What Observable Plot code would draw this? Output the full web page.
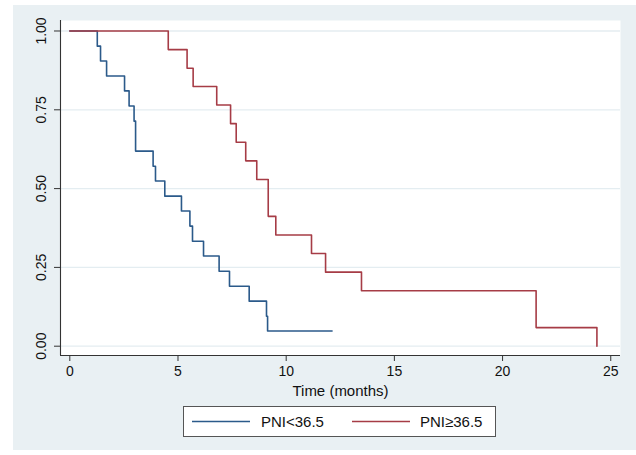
<!DOCTYPE html>
<html><head><meta charset="utf-8">
<script src="https://cdn.jsdelivr.net/npm/d3@7"></script>
<script src="https://cdn.jsdelivr.net/npm/@observablehq/plot@0.6"></script>
<style>
body{margin:0;background:#fff;font-family:"Liberation Sans",Arial,sans-serif;}
#wrap{position:relative;width:636px;height:455px;overflow:hidden;background:#fff}
#bg{position:absolute;left:13px;top:5px;width:623px;height:445px;background:#e9f0f3}
#chart{position:absolute;left:0;top:0}
#legend{position:absolute;left:183px;top:406px;width:313px;height:31px;background:#fff;border:1px solid #555;box-sizing:border-box}
#legend svg{position:absolute;left:0;top:0}
#legend .tx{position:absolute;top:6px;font-size:15px;line-height:18px;color:#111;white-space:nowrap}
</style>
</head><body>
<div id="wrap"><div id="bg"></div><div id="chart"></div><div id="legend"></div></div>
<script>
const seriesNames = ["PNI<36.5", "PNI\u226536.5"];
const seriesColors = ["#2b5a8a", "#a63c46"];
const lowTimes = [0, 1.27, 1.42, 1.70, 2.53, 2.74, 2.97, 3.04, 3.85, 3.96, 4.39, 5.16, 5.55, 5.67, 6.18, 6.90, 7.38, 8.29, 9.09, 9.14, 12.12];
const lowSurv  = [1, 0.952, 0.905, 0.857, 0.810, 0.762, 0.714, 0.619, 0.571, 0.524, 0.476, 0.429, 0.381, 0.333, 0.286, 0.238, 0.190, 0.143, 0.095, 0.048, 0.048];
const highTimes = [0, 4.55, 5.42, 5.70, 6.79, 7.43, 7.69, 8.13, 8.64, 9.17, 9.52, 11.17, 11.82, 13.48, 21.55, 24.36];
const highSurv  = [1, 0.941, 0.882, 0.824, 0.765, 0.706, 0.647, 0.588, 0.529, 0.412, 0.353, 0.294, 0.235, 0.176, 0.059, 0];
const xTicks = [0, 5, 10, 15, 20, 25];
const yTicks = [0, 0.25, 0.5, 0.75, 1];
const xDomain = [-0.43, 25.45];
const yDomain = [-0.0295, 1.0333];
const xLabel = "Time (months)";

const low = lowTimes.map((t, i) => ({t, s: lowSurv[i]}));
const high = highTimes.map((t, i) => ({t, s: highSurv[i]}));

const chart = Plot.plot({
  width: 636, height: 400,
  marginLeft: 60, marginRight: 16, marginTop: 20, marginBottom: 45,
  style: {background: "transparent", fontFamily: "'Liberation Sans', Arial, sans-serif", fontSize: "14px", color: "#111"},
  x: {domain: xDomain},
  y: {domain: yDomain},
  marks: [
    Plot.frame({fill: "white", stroke: "none"}),
    Plot.gridY(yTicks, {stroke: "#e4edf1", strokeOpacity: 1, strokeWidth: 1.3}),
    Plot.ruleX([xDomain[0]], {stroke: "#333", strokeWidth: 1.1}),
    Plot.ruleY([yDomain[0]], {stroke: "#333", strokeWidth: 1.1}),
    Plot.axisY(yTicks, {tickFormat: d3.format(".2f"), tickRotate: -90, tickSize: 6, tickPadding: 9, label: null, stroke: "#333"}),
    Plot.axisX(xTicks, {tickSize: 6, tickPadding: 5, label: xLabel, labelAnchor: "center", labelArrow: "none", labelOffset: 40, stroke: "#333", fontSize: 14}),
    Plot.line(low, {x: "t", y: "s", curve: "step-after", stroke: seriesColors[0], strokeWidth: 1.6}),
    Plot.line(high, {x: "t", y: "s", curve: "step-after", stroke: seriesColors[1], strokeWidth: 1.6})
  ]
});
document.getElementById("chart").appendChild(chart);
chart.querySelectorAll("[aria-label='x-axis label'] text").forEach(t => t.style.fontSize = "15px");

const lg = document.getElementById("legend");
const ns = "http://www.w3.org/2000/svg";
const sv = document.createElementNS(ns, "svg");
sv.setAttribute("width", 311); sv.setAttribute("height", 29);
lg.appendChild(sv);
const pos = [[8, 77], [168, 236]];
seriesNames.forEach((n, i) => {
  const l = document.createElementNS(ns, "line");
  l.setAttribute("x1", pos[i][0]); l.setAttribute("x2", pos[i][0] + 58);
  l.setAttribute("y1", 14.5); l.setAttribute("y2", 14.5);
  l.setAttribute("stroke", seriesColors[i]); l.setAttribute("stroke-width", 1.6);
  sv.appendChild(l);
  const t = document.createElement("div"); t.className = "tx"; t.style.left = pos[i][1] + "px"; t.textContent = n; lg.appendChild(t);
});
</script>
</body></html>
